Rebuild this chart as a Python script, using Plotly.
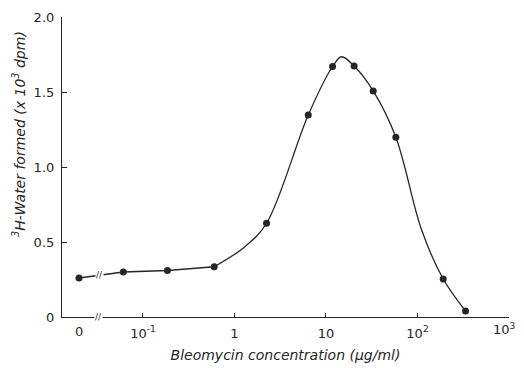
import math
import plotly.graph_objects as go

# Data
conc = [0, 0.061, 0.185, 0.60, 2.24, 6.4, 11.8, 20.3, 32.8, 58, 191, 335]   # µg/ml
water = [0.26, 0.30, 0.31, 0.335, 0.625, 1.347, 1.67, 1.673, 1.507, 1.198, 0.253, 0.04]  # x10^3 dpm

# smooth curve drawn through the points
curve_x = [0.60, 1.30, 2.24, 6.4, 11.8, 14.8, 20.3, 32.8, 58, 111, 191, 335]
curve_y = [0.335, 0.469, 0.625, 1.347, 1.67, 1.735, 1.673, 1.507, 1.198, 0.58, 0.253, 0.04]

ZERO_POS = 0.02  # plotting position for the "0" concentration (axis break)
tick_vals = [0.1, 1, 10, 100, 1000]
tick_text = ["10<sup>-1</sup>", "1", "10", "10<sup>2</sup>", ""]
last_tick_text = "10<sup>3</sup>"
y_ticks = [0, 0.5, 1.0, 1.5, 2.0]
y_text = ["0", "0.5", "1.0", "1.5", "2.0"]

xp = [ZERO_POS if c == 0 else c for c in conc]
INK = "#262626"
FONT = "DejaVu Sans"

fig = go.Figure()
# straight segments at low concentrations
fig.add_trace(go.Scatter(x=xp[:4], y=water[:4], mode="lines",
                         line=dict(color=INK, width=1.3), hoverinfo="skip"))
# smooth curve
fig.add_trace(go.Scatter(x=curve_x, y=curve_y, mode="lines",
                         line=dict(color=INK, width=1.3, shape="spline", smoothing=1.0),
                         hoverinfo="skip"))
# points
fig.add_trace(go.Scatter(x=xp, y=water, mode="markers",
                         marker=dict(color=INK, size=7)))

annotations = [
    # "0" tick label on x
    dict(x=math.log10(ZERO_POS), y=0, xref="x", yref="y", text="0", showarrow=False,
         yanchor="top", yshift=-5, font=dict(family=FONT, size=13, color=INK)),
    # last decade label, nudged to stay inside the page
    dict(x=math.log10(tick_vals[-1]), y=0, xref="x", yref="y", text=last_tick_text,
         showarrow=False, yanchor="top", yshift=-2, xshift=-5,
         font=dict(family=FONT, size=13, color=INK)),
    # axis break marks
    dict(x=-1.49, y=0, xref="x", yref="y", text="//", showarrow=False,
         bgcolor="white", borderpad=0, font=dict(family=FONT, size=9, color=INK)),
    dict(x=-1.47, y=0.282, xref="x", yref="y", text="//", showarrow=False,
         bgcolor="white", borderpad=0, font=dict(family=FONT, size=9, color=INK)),
    # y title
    dict(x=-0.096, y=0.61, xref="paper", yref="paper",
         text="<sup>3</sup>H-Water formed (x 10<sup>3</sup> dpm)", textangle=-90,
         showarrow=False, xanchor="center", yanchor="middle",
         font=dict(family=FONT, size=14, color=INK, style="italic")),
]

# page body has an 8px default margin, so the figure is sized/offset to compensate
fig.update_layout(
    width=508, height=358,
    margin=dict(l=54, r=7, t=9, b=49, autoexpand=False),
    paper_bgcolor="white", plot_bgcolor="white",
    showlegend=False,
    font=dict(family=FONT, size=13, color=INK),
    annotations=annotations,
    xaxis=dict(type="log", range=[-1.885, 3.0], tickvals=tick_vals, ticktext=tick_text,
               automargin=False,
               ticks="inside", ticklen=4, tickcolor=INK, showline=True, linecolor=INK,
               linewidth=1.2, showgrid=False, zeroline=False, ticklabelstandoff=4,
               title=dict(text="Bleomycin concentration (μg/ml)", standoff=10,
                          font=dict(family=FONT, size=14, color=INK, style="italic"))),
    yaxis=dict(range=[0, 2.0], tickvals=y_ticks, ticktext=y_text, automargin=False,
               ticks="inside", ticklen=5, tickcolor=INK, showline=True, linecolor=INK,
               linewidth=1.2, showgrid=False, zeroline=False, ticklabelstandoff=4),
)

fig.write_html("out.html")
